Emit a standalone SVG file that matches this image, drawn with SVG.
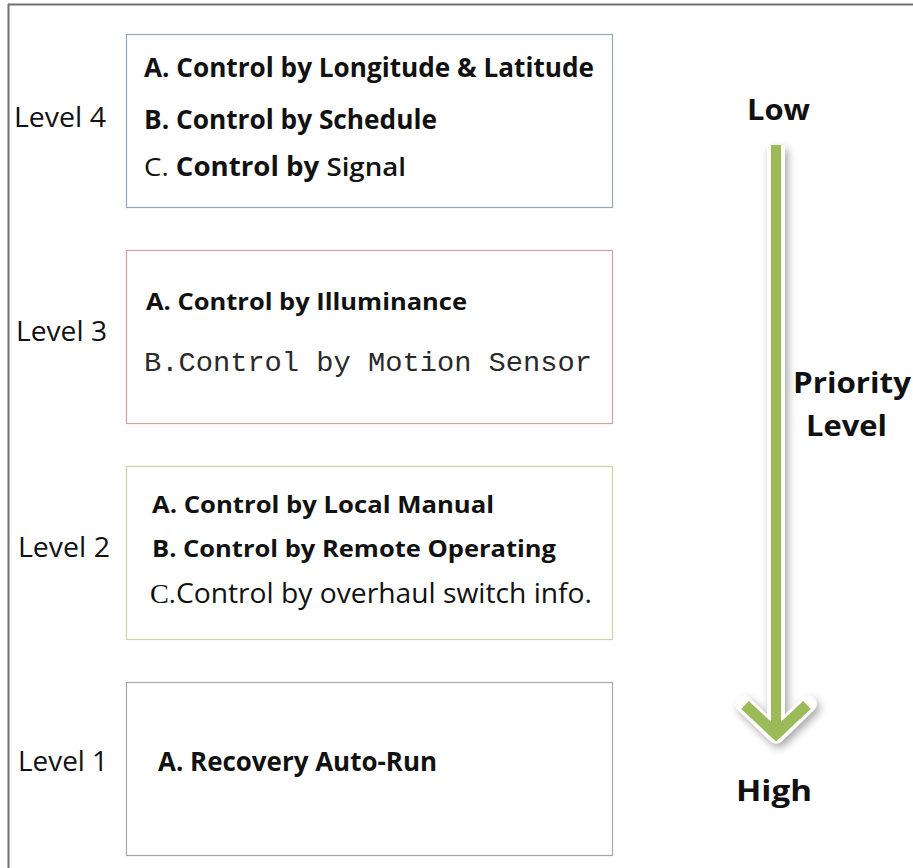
<svg xmlns="http://www.w3.org/2000/svg" width="913" height="868" viewBox="0 0 913 868">
<defs>
<style>
.lvl{font-family:"Open Sans","Noto Sans",sans-serif;font-size:28px;fill:#111;}
.b{font-family:"Open Sans","Noto Sans",sans-serif;font-size:23px;font-weight:bold;fill:#111;}
.bn{font-family:"Open Sans","Noto Sans",sans-serif;font-size:26px;font-weight:bold;fill:#111;}
.r{font-family:"Open Sans","Noto Sans",sans-serif;font-size:27px;fill:#111;}
.mono{font-family:"Liberation Mono","DejaVu Sans Mono",monospace;font-size:28px;fill:#2a2a2a;}
.big{font-family:"Open Sans","Noto Sans",sans-serif;font-size:29px;font-weight:bold;fill:#111;}
.box{fill:#fff;stroke-width:1.2;}
</style>
<filter id="sh" x="-50%" y="-10%" width="200%" height="120%">
<feDropShadow dx="3" dy="4" stdDeviation="4" flood-color="#000" flood-opacity="0.35"/>
</filter>
</defs>
<rect width="913" height="868" fill="#fff"/>
<g id="frame" stroke="#707070" stroke-width="2" fill="none">
<line x1="8" y1="4.5" x2="913" y2="4.5"/>
<line x1="8.5" y1="4" x2="8.5" y2="868"/>
</g>

<g id="level4">
<rect class="box" x="126.5" y="34.5" width="486" height="173" stroke="#8ea8b8"/>
<text class="lvl" x="14" y="127" textLength="92" lengthAdjust="spacingAndGlyphs">Level 4</text>
<text class="bn" x="144" y="77" textLength="450" lengthAdjust="spacingAndGlyphs">A.  Control by Longitude &amp; Latitude</text>
<text class="bn" x="144" y="129" textLength="293" lengthAdjust="spacingAndGlyphs">B.  Control by Schedule</text>
<text class="bn" x="144" y="176" textLength="262" lengthAdjust="spacingAndGlyphs"><tspan font-weight="normal">C.</tspan>  Control by <tspan font-weight="600">Signal</tspan></text>
</g>

<g id="level3">
<rect class="box" x="126.5" y="250.5" width="486" height="173" stroke="#d4a09a"/>
<text class="lvl" x="16" y="341" textLength="91" lengthAdjust="spacingAndGlyphs">Level 3</text>
<text class="b" x="146" y="310" textLength="321" lengthAdjust="spacingAndGlyphs">A. Control by Illuminance</text>
<text class="mono" x="144" y="371" textLength="448" lengthAdjust="spacingAndGlyphs">B.Control by Motion Sensor</text>
</g>

<g id="level2">
<rect class="box" x="126.5" y="466.5" width="486" height="173" stroke="#cad4aa"/>
<text class="lvl" x="18" y="557" textLength="92" lengthAdjust="spacingAndGlyphs">Level 2</text>
<text class="b" x="152" y="513" textLength="342" lengthAdjust="spacingAndGlyphs">A. Control by Local Manual</text>
<text class="b" x="152" y="557" textLength="404" lengthAdjust="spacingAndGlyphs">B. Control by Remote Operating</text>
<text class="r" x="150" y="603" textLength="442" lengthAdjust="spacingAndGlyphs"><tspan font-family="Liberation Serif,serif">C.</tspan>Control by overhaul switch info.</text>
</g>

<g id="level1">
<rect class="box" x="126.5" y="682.5" width="486" height="173" stroke="#a8a8a8"/>
<text class="lvl" x="18" y="771" textLength="90" lengthAdjust="spacingAndGlyphs">Level 1</text>
<text class="bn" x="158" y="771" textLength="279" lengthAdjust="spacingAndGlyphs">A. Recovery Auto-Run</text>
</g>

<g id="connectors">
<g filter="url(#sh)">
<line x1="776" y1="145" x2="776" y2="728" stroke="#fff" stroke-width="18"/>
<polyline points="744,704 776,735 808,704" fill="none" stroke="#fff" stroke-width="17" stroke-linejoin="round" stroke-linecap="round"/>
</g>
<line x1="776" y1="145" x2="776" y2="728" stroke="#9bbb59" stroke-width="10"/>
<polyline points="745,705 776,734 807,705" fill="none" stroke="#9bbb59" stroke-width="11" stroke-linejoin="miter" stroke-linecap="butt"/>
</g>

<g id="priority">
<text class="big" x="747" y="120" textLength="63" lengthAdjust="spacingAndGlyphs">Low</text>
<text class="big" x="736" y="801" textLength="76" lengthAdjust="spacingAndGlyphs">High</text>
<text class="big" x="793" y="393" textLength="118" lengthAdjust="spacingAndGlyphs">Priority</text>
<text class="big" x="806" y="436" textLength="81" lengthAdjust="spacingAndGlyphs">Level</text>
</g>
</svg>
